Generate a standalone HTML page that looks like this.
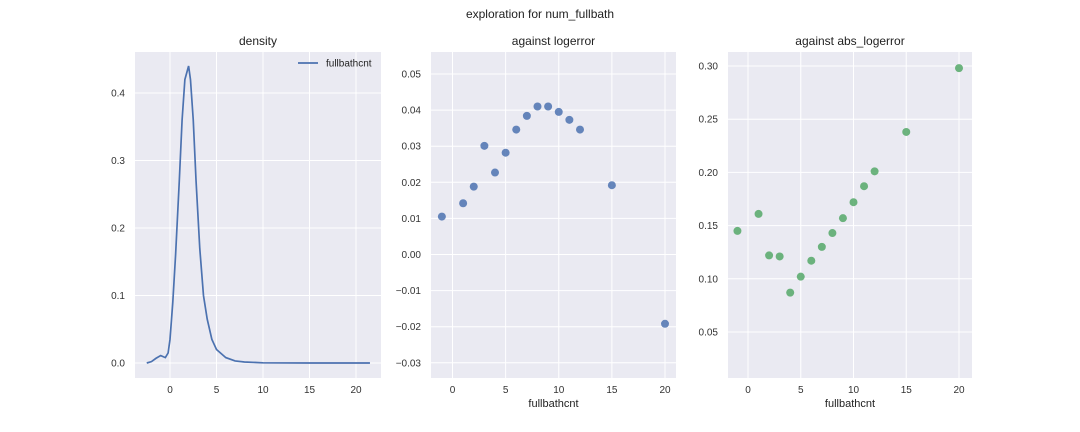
<!DOCTYPE html>
<html><head><meta charset="utf-8"><style>
body{margin:0;background:#fff;}
svg{display:block;font-family:"Liberation Sans",sans-serif;}
</style></head><body>
<svg id="c" width="1080" height="432">
<text x="540" y="18" text-anchor="middle" font-size="12" fill="#222">exploration for num_fullbath</text>
</svg>
<script>
const densX=[-2.5,-2,-1.5,-1,-0.5,-0.2,0,0.3,0.6,1,1.3,1.6,1.8,2,2.2,2.5,2.8,3.2,3.6,4,4.5,5,6,7,8,10,15,21.5];
const densY=[0,0.002,0.007,0.011,0.008,0.015,0.035,0.09,0.16,0.27,0.36,0.42,0.43,0.44,0.42,0.36,0.27,0.17,0.1,0.065,0.035,0.02,0.008,0.003,0.0015,0.0003,0,0];
const scatX=[-1,1,2,3,4,5,6,7,8,9,10,11,12,15,20];
const logerr=[0.0105,0.0142,0.0188,0.0301,0.0227,0.0282,0.0346,0.0384,0.041,0.041,0.0395,0.0373,0.0346,0.0192,-0.0192];
const abslog=[0.145,0.161,0.122,0.121,0.087,0.102,0.117,0.130,0.143,0.157,0.172,0.187,0.201,0.238,0.298];
const xTicks=[0,5,10,15,20];
const y1Ticks=[0.0,0.1,0.2,0.3,0.4];
const y2Ticks=[-0.03,-0.02,-0.01,0.00,0.01,0.02,0.03,0.04,0.05];
const y3Ticks=[0.05,0.10,0.15,0.20,0.25,0.30];

const svg=document.getElementById('c');
const NS='http://www.w3.org/2000/svg';
function mk(tag,attrs,parent){const e=document.createElementNS(NS,tag);for(const k in attrs)e.setAttribute(k,attrs[k]);(parent||svg).appendChild(e);return e;}
function lin(d0,d1,r0,r1){return v=>r0+(v-d0)*(r1-r0)/(d1-d0);}

function panel(name,L,R,T,B,xs,ys,yt,yfmt,title,xlabel){
  const g=mk('g',{});
  
  
  const bg=mk('rect',{x:L,y:T,width:R-L,height:B-T,fill:'#eaeaf2'},g);
  
  
  xTicks.forEach(t=>{const x=xs(t);
    const l=mk('line',{x1:x,x2:x,y1:T,y2:B,stroke:'#fff','stroke-width':1},g);
    
    const tx=mk('text',{x:x,y:B+15,'text-anchor':'middle','font-size':10,fill:'#333'},g);tx.textContent=t;
    });
  yt.forEach(t=>{const y=ys(t);
    const l=mk('line',{x1:L,x2:R,y1:y,y2:y,stroke:'#fff','stroke-width':1},g);
    
    const tx=mk('text',{x:L-10,y:y+3.5,'text-anchor':'end','font-size':10,fill:'#333'},g);tx.textContent=yfmt(t).replace('-','\u2212');
    });
  const ti=mk('text',{x:(L+R)/2,y:T-7,'text-anchor':'middle','font-size':12,fill:'#222'},g);ti.textContent=title;
  
  if(xlabel){const xl=mk('text',{x:(L+R)/2,y:B+29,'text-anchor':'middle','font-size':11,fill:'#222'},g);xl.textContent=xlabel;
    }
  return g;
}

// Panel 1
const x1=lin(0,20,170,356), y1=lin(0,0.4,363,93);
const g1=panel('density-panel',135,381,52,378,x1,y1,y1Ticks,v=>v.toFixed(1),'density',null);
const p=mk('path',{d:densX.map((v,i)=>(i?'L':'M')+x1(v)+','+y1(densY[i])).join(''),fill:'none',stroke:'#4c72b0','stroke-width':1.7},g1);

const lg=mk('g',{},g1);

mk('line',{x1:298,x2:318,y1:63,y2:63,stroke:'#4c72b0','stroke-width':1.7},lg);
const lt=mk('text',{x:326,y:66.5,'font-size':10,fill:'#222'},lg);lt.textContent='fullbathcnt';

// Panel 2
const x2=lin(0,20,452.5,665), y2=lin(0,0.05,254.5,74);
const g2=panel('logerror-panel',431,676,52,378,x2,y2,y2Ticks,v=>v.toFixed(2),'against logerror','fullbathcnt');
scatX.forEach((v,i)=>{const c=mk('circle',{cx:x2(v),cy:y2(logerr[i]),r:4,fill:'#4c72b0','fill-opacity':0.85},g2);
  });

// Panel 3
const x3=lin(0,20,748,959), y3=lin(0.05,0.30,332,66);
const g3=panel('abs-logerror-panel',728,972,52,378,x3,y3,y3Ticks,v=>v.toFixed(2),'against abs_logerror','fullbathcnt');
scatX.forEach((v,i)=>{const c=mk('circle',{cx:x3(v),cy:y3(abslog[i]),r:4,fill:'#55a868','fill-opacity':0.85},g3);
  });
</script>
</body></html>
